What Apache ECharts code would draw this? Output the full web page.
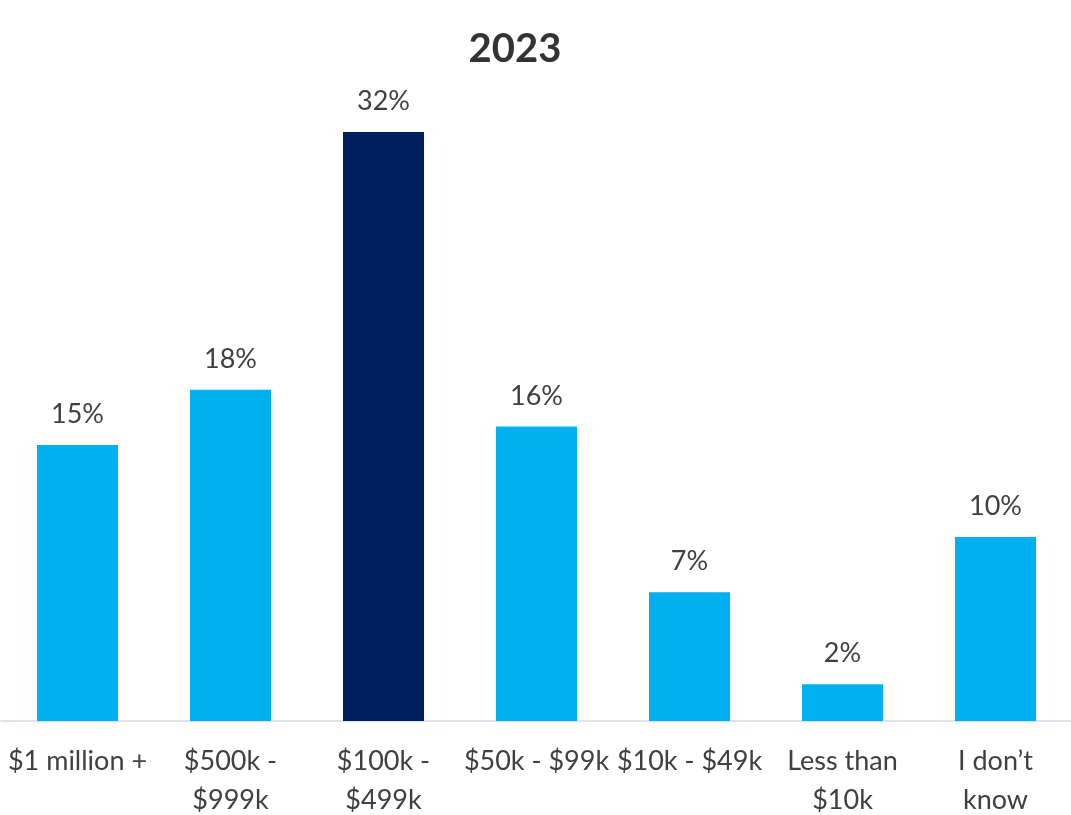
<!DOCTYPE html>
<html>
<head>
<meta charset="utf-8">
<title>2023</title>
<script src="https://cdn.jsdelivr.net/npm/echarts@6/dist/echarts.min.js"></script>
<style>
  html, body { margin: 0; padding: 0; background: #ffffff; }
  #chart { width: 1071px; height: 815px; }
</style>
</head>
<body>
<div id="chart"></div>
<script>
// Share of respondents by amount, 2023
const categories = [
  '$1 million +',
  '$500k -\n$999k',
  '$100k -\n$499k',
  '$50k - $99k',
  '$10k - $49k',
  'Less than\n$10k',
  'I don\u2019t\nknow'
];
const values = [15, 18, 32, 16, 7, 2, 10];
const highlightIndex = 2;

const LIGHT = '#00B0F0';
const DARK = '#001F5F';
const TEXT = '#404040';
const FONT = 'Lato, "Liberation Sans", sans-serif';

const chart = echarts.init(document.getElementById('chart'), null, { renderer: 'canvas' });

chart.setOption({
  backgroundColor: '#ffffff',
  animation: false,
  title: {
    text: '2023',
    left: 510,
    top: 24,
    textAlign: 'center',
    textStyle: { fontFamily: FONT, fontSize: 40, fontWeight: 'bold', color: '#333333' }
  },
  grid: { left: 1, right: -1, top: 132, bottom: 94, containLabel: false, outerBoundsMode: 'none' },
  xAxis: {
    type: 'category',
    data: categories,
    axisLine: { show: true, lineStyle: { color: '#D5DAE5', width: 1.5 } },
    axisTick: { show: false },
    axisLabel: {
      interval: 0,
      margin: 21,
      fontFamily: FONT,
      fontSize: 27,
      lineHeight: 39,
      color: TEXT
    }
  },
  yAxis: {
    type: 'value',
    min: 0,
    max: 32,
    show: false,
    splitLine: { show: false }
  },
  series: [{
    type: 'bar',
    barWidth: 81,
    data: values.map((v, i) => ({
      value: v,
      itemStyle: { color: i === highlightIndex ? DARK : LIGHT }
    })),
    label: {
      show: true,
      position: 'top',
      distance: 17,
      formatter: p => p.value + '%',
      fontFamily: FONT,
      fontSize: 27,
      color: TEXT
    }
  }]
});
</script>
</body>
</html>
